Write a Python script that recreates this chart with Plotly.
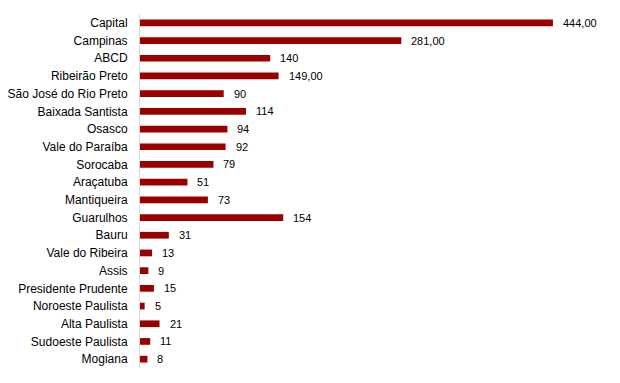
import plotly.graph_objects as go

regions = ["Capital", "Campinas", "ABCD", "Ribeirão Preto", "São José do Rio Preto",
           "Baixada Santista", "Osasco", "Vale do Paraíba", "Sorocaba", "Araçatuba",
           "Mantiqueira", "Guarulhos", "Bauru", "Vale do Ribeira", "Assis",
           "Presidente Prudente", "Noroeste Paulista", "Alta Paulista", "Sudoeste Paulista", "Mogiana"]
values = [444, 281, 140, 149, 90, 114, 94, 92, 79, 51, 73, 154, 31, 13, 9, 15, 5, 21, 11, 8]
value_labels = ["444,00", "281,00", "140", "149,00", "90", "114", "94", "92", "79", "51",
                "73", "154", "31", "13", "9", "15", "5", "21", "11", "8"]

fig = go.Figure(go.Bar(
    x=values, y=regions, orientation="h",
    marker=dict(color="#9B0000", line=dict(width=0)),
    width=0.38,
    hoverinfo="skip",
))

for r, v, t in zip(regions, values, value_labels):
    fig.add_annotation(x=v, y=r, text=t, showarrow=False, xanchor="left", xshift=8,
                       font=dict(family="Liberation Sans, Arial", size=11, color="#000"))

fig.update_layout(
    width=612, height=375,
    margin=dict(l=132, r=10, t=6, b=15),
    plot_bgcolor="white", paper_bgcolor="white",
    showlegend=False,
    xaxis=dict(range=[0, 470 / 0.93], visible=False, fixedrange=True, automargin=False),
    yaxis=dict(categoryorder="array", categoryarray=regions, autorange="reversed",
               showline=True, linecolor="#D9D9D9", linewidth=1, showgrid=False,
               ticks="", ticklabelstandoff=9, automargin=False,
               tickfont=dict(family="Liberation Sans, Arial", size=12, color="#000")),
)

fig.write_html("out.html")
